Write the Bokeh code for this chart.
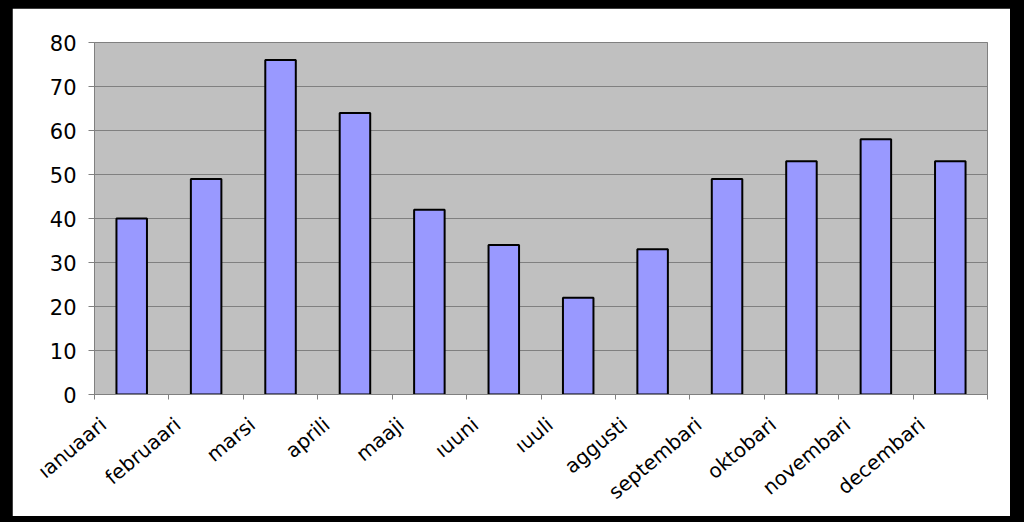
import math
from bokeh.plotting import figure
from bokeh.models import Range1d, FixedTicker, GlobalInlineStyleSheet
from bokeh.embed import file_html
from bokeh.resources import INLINE

months = ["ıanuaari", "februaari", "marsi", "aprili", "maaji", "ıuuni",
          "ıuuli", "aggusti", "septembari", "oktobari", "novembari", "decembari"]
values = [40, 49, 76, 64, 42, 34, 22, 33, 49, 53, 58, 53]
y_ticks = [0, 10, 20, 30, 40, 50, 60, 70, 80]

n = len(months)
centers = [i + 0.5 for i in range(n)]
label_shift = 0.38
label_pos = [c - label_shift for c in centers]
boundaries = list(range(n + 1))

FONT = "DejaVu Sans"

p = figure(frame_width=893, frame_height=352, output_backend="svg", toolbar_location=None,
           x_range=Range1d(0, n), y_range=Range1d(0, 80),
           min_border_left=82, min_border_right=23, min_border_top=34, min_border_bottom=120)
p.stylesheets = [GlobalInlineStyleSheet(css="body{background:#000;margin:8px 0 0 12px;}")]

p.background_fill_color = "#c0c0c0"
p.border_fill_color = "#ffffff"
p.outline_line_color = "#808080"
p.outline_line_width = 1

p.vbar(x=centers, top=values, width=0.41, bottom=0,
       fill_color="#9999ff", line_color="#000000", line_width=2)

# y axis
p.yaxis.ticker = FixedTicker(ticks=y_ticks)
p.yaxis.axis_line_color = "#808080"
p.yaxis.major_tick_line_color = "#808080"
p.yaxis.major_tick_in = 0
p.yaxis.major_tick_out = 6
p.yaxis.minor_tick_line_color = None
p.yaxis.major_label_text_font = FONT
p.yaxis.major_label_text_font_size = "21px"
p.yaxis.major_label_text_color = "#000000"
p.yaxis.major_label_standoff = 12

# x axis
p.xaxis.ticker = FixedTicker(ticks=label_pos, minor_ticks=boundaries)
p.xaxis.major_label_overrides = {lp: m for lp, m in zip(label_pos, months)}
p.xaxis.axis_line_color = "#808080"
p.xaxis.major_tick_line_color = None
p.xaxis.major_tick_in = 0
p.xaxis.major_tick_out = 0
p.xaxis.minor_tick_line_color = "#808080"
p.xaxis.minor_tick_in = 0
p.xaxis.minor_tick_out = 5
p.xaxis.major_label_orientation = math.radians(40)
p.xaxis.major_label_text_font = FONT
p.xaxis.major_label_text_font_size = "20px"
p.xaxis.major_label_text_color = "#000000"
p.xaxis.major_label_standoff = 22

p.xgrid.grid_line_color = None
p.ygrid.ticker = FixedTicker(ticks=y_ticks)
p.ygrid.grid_line_color = "#808080"
p.ygrid.grid_line_width = 1

open("out.html", "w").write(file_html(p, INLINE))
